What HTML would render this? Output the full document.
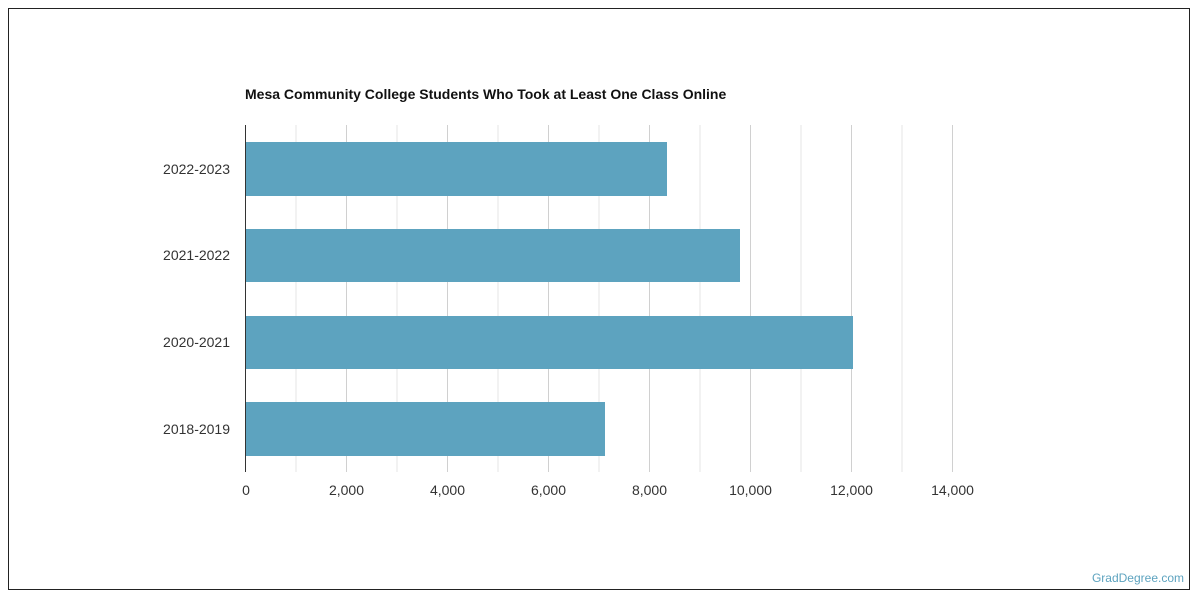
<!DOCTYPE html>
<html><head><meta charset="utf-8"><style>
body{margin:0;background:#fff;}
svg{display:block;font-family:"Liberation Sans",Arial,sans-serif;}
</style></head><body>
<svg width="1200" height="600" xmlns="http://www.w3.org/2000/svg">
<rect x="8.5" y="8.5" width="1181" height="581" fill="#fff" stroke="#222" stroke-width="1"/>
<text x="245" y="99" font-size="14" font-weight="bold" fill="#111">Mesa Community College Students Who Took at Least One Class Online</text>
<g stroke-width="1">
<line x1="296" y1="125" x2="296" y2="472" stroke="#e6e6e6"/>
<line x1="346.5" y1="125" x2="346.5" y2="472" stroke="#d0d0d0"/>
<line x1="397" y1="125" x2="397" y2="472" stroke="#e6e6e6"/>
<line x1="447.5" y1="125" x2="447.5" y2="472" stroke="#d0d0d0"/>
<line x1="498" y1="125" x2="498" y2="472" stroke="#e6e6e6"/>
<line x1="548.5" y1="125" x2="548.5" y2="472" stroke="#d0d0d0"/>
<line x1="599" y1="125" x2="599" y2="472" stroke="#e6e6e6"/>
<line x1="649.5" y1="125" x2="649.5" y2="472" stroke="#d0d0d0"/>
<line x1="700" y1="125" x2="700" y2="472" stroke="#e6e6e6"/>
<line x1="750.5" y1="125" x2="750.5" y2="472" stroke="#d0d0d0"/>
<line x1="801" y1="125" x2="801" y2="472" stroke="#e6e6e6"/>
<line x1="851.5" y1="125" x2="851.5" y2="472" stroke="#d0d0d0"/>
<line x1="902" y1="125" x2="902" y2="472" stroke="#e6e6e6"/>
<line x1="952.5" y1="125" x2="952.5" y2="472" stroke="#d0d0d0"/>
</g>
<g fill="#5da3bf">
<rect x="245" y="142" width="422" height="54"/>
<rect x="245" y="229" width="495" height="53"/>
<rect x="245" y="316" width="608" height="53"/>
<rect x="245" y="402" width="360" height="54"/>
</g>
<line x1="245.5" y1="125" x2="245.5" y2="472" stroke="#333" stroke-width="1"/>
<g font-size="14" fill="#333" text-anchor="end">
<text x="230" y="174">2022-2023</text>
<text x="230" y="260">2021-2022</text>
<text x="230" y="347">2020-2021</text>
<text x="230" y="434">2018-2019</text>
</g>
<g font-size="14" fill="#333" text-anchor="middle">
<text x="246" y="495">0</text>
<text x="346.5" y="495">2,000</text>
<text x="447.5" y="495">4,000</text>
<text x="548.5" y="495">6,000</text>
<text x="649.5" y="495">8,000</text>
<text x="750.5" y="495">10,000</text>
<text x="851.5" y="495">12,000</text>
<text x="952.5" y="495">14,000</text>
</g>
<text x="1184" y="582" font-size="12" fill="#5da3bf" text-anchor="end">GradDegree.com</text>
</svg>
</body></html>
